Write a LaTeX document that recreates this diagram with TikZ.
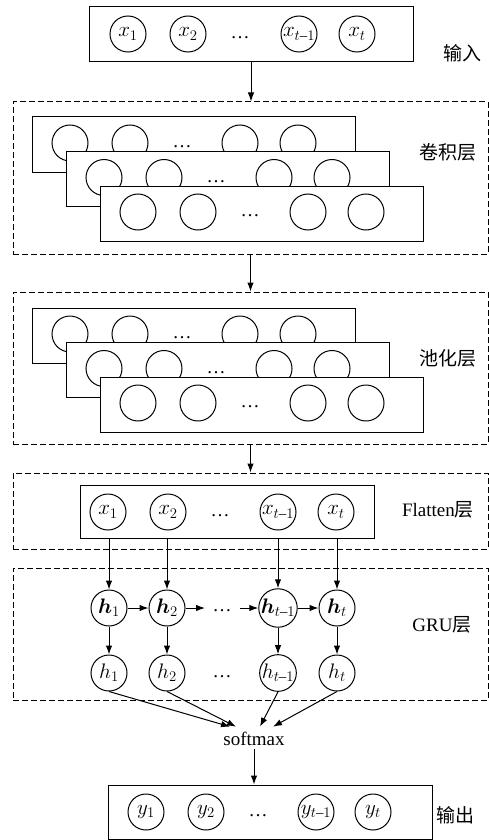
\RequirePackage{fix-cm}
\documentclass[tikz,border=0pt]{standalone}
\usepackage{amsmath}
\usepackage{bm}
\usepackage{fontspec}
\setmainfont{Liberation Serif}
\newfontfamily\cjk{Noto Sans CJK SC}
\usetikzlibrary{arrows.meta}
\begin{document}
\begin{tikzpicture}[x=1pt,y=-1pt,
  every node/.style={font=\fontsize{19}{22}\selectfont},
  neuron/.style={draw, circle, minimum size=36pt, inner sep=0pt, line width=1pt, fill=white, font=\fontsize{21}{24}\selectfont},
  rowbox/.style={draw, line width=1pt, fill=white, inner sep=0pt},
  layerbox/.style={draw, dash pattern=on 6pt off 3pt, line width=1pt, inner sep=0pt},
  arr/.style={-{Latex[length=9pt,width=6.5pt]}, line width=1pt},
  lab/.style={font=\fontsize{19}{22}\selectfont},
  dots/.style={inner sep=0pt}]
\useasboundingbox (0,0) rectangle (489,840);

% input row
\node[rowbox, minimum width=324pt, minimum height=55pt] (in) at (251,34.5) {};
\node[neuron] (i1) at (128,34) {$x_1$};
\node[neuron] (i2) at (188,34) {$x_2$};
\node[dots] (id) at (240,38) {\ldots};
\node[neuron] (i3) at (299,34) {$x_{t\text{–}1}$};
\node[neuron] (i4) at (357,34) {$x_t$};
\node[lab] (lin) at (462,53) {\cjk 输入};

% convolution layer
\node[layerbox, minimum width=475pt, minimum height=152pt] (conv) at (250.5,178) {};
\foreach \k in {0,1,2} {
  \node[rowbox, minimum width=323pt, minimum height=55pt] (c\k) at (193.5+34*\k, 144.5+34.5*\k) {};
  \foreach \dx [count=\i] in {38,98,208,266}
    \node[neuron] (c\k-\i) at (32+34*\k+\dx, 143+34.5*\k) {};
  \node[dots] (c\k-d) at (182+34*\k, 147+34.5*\k) {\ldots};
}
\node[lab] (lconv) at (448,152) {\cjk 卷积层};

% pooling layer
\node[layerbox, minimum width=475pt, minimum height=152pt] (pool) at (250.5,368) {};
\foreach \k in {0,1,2} {
  \node[rowbox, minimum width=323pt, minimum height=55pt] (p\k) at (193.5+34*\k, 335.5+34.5*\k) {};
  \foreach \dx [count=\i] in {38,98,208,266}
    \node[neuron] (p\k-\i) at (32+34*\k+\dx, 334+34.5*\k) {};
  \node[dots] (p\k-d) at (182+34*\k, 338+34.5*\k) {\ldots};
}
\node[lab] (lpool) at (448,358) {\cjk 池化层};

% flatten layer
\node[layerbox, minimum width=475pt, minimum height=76pt] (flatL) at (250.5,511) {};
\node[rowbox, minimum width=294pt, minimum height=53pt] (flat) at (227,511.5) {};
\node[neuron] (f1) at (108,512) {$x_1$};
\node[neuron] (f2) at (168,512) {$x_2$};
\node[dots] (fd) at (220,516) {\ldots};
\node[neuron] (f3) at (278,512) {$x_{t\text{–}1}$};
\node[neuron] (f4) at (336,512) {$x_t$};
\node[lab] (lflat) at (438,510) {Flatten{\cjk 层}};

% GRU layer
\node[layerbox, minimum width=475pt, minimum height=132pt] (gru) at (250.5,634) {};
\node[neuron] (hb1) at (109,608) {$\bm{h}_1$};
\node[neuron] (hb2) at (167,608) {$\bm{h}_2$};
\node[dots] (hbd) at (222,611) {\ldots};
\node[neuron] (hb3) at (278,608) {$\bm{h}_{t\text{–}1}$};
\node[neuron] (hb4) at (337,608) {$\bm{h}_t$};
\coordinate (hbdl) at (205,608);
\coordinate (hbdr) at (240,608);
\node[neuron] (h1) at (109,673) {$h_1$};
\node[neuron] (h2) at (167,673) {$h_2$};
\node[dots] (hd) at (222,677) {\ldots};
\node[neuron] (h3) at (278,673) {$h_{t\text{–}1}$};
\node[neuron] (h4) at (337,673) {$h_t$};
\node[lab] (lgru) at (442,625) {GRU{\cjk 层}};

% softmax and output
\node[lab] (sm) at (254,739) {softmax};
\node[rowbox, minimum width=324pt, minimum height=54pt] (out) at (270,812) {};
\node[neuron] (o1) at (146,812) {$y_1$};
\node[neuron] (o2) at (206,812) {$y_2$};
\node[dots] (od) at (258,816) {\ldots};
\node[neuron] (o3) at (316,812) {$y_{t\text{–}1}$};
\node[neuron] (o4) at (373,812) {$y_t$};
\node[lab] (lout) at (455,815) {\cjk 输出};

% connectors
\draw[arr] (in.south) -- (in.south |- conv.north);
\draw[arr] (conv.south) -- (pool.north);
\draw[arr] (pool.south) -- (flatL.north);
\foreach \i in {1,2,3,4} {
  \draw[arr] (hb\i |- flat.south) -- (hb\i);
  \draw[arr] (hb\i) -- (h\i);
}
\draw[arr] (hb1) -- (hb2);
\draw[arr] (hb2) -- (hbdl);
\draw[arr] (hbdr) -- (hb3);
\draw[arr] (hb3) -- (hb4);
\draw[arr] (h1.south) -- ([xshift=-24pt,yshift=2pt]sm.north);
\draw[arr] (h2.south) -- ([xshift=-18pt,yshift=2pt]sm.north);
\draw[arr] (h3.south) -- ([xshift=6pt,yshift=2pt]sm.north);
\draw[arr] (h4.south) -- ([xshift=19pt,yshift=2pt]sm.north);
\draw[arr] (sm.south) -- (sm.south |- out.north);
\end{tikzpicture}
\end{document}
